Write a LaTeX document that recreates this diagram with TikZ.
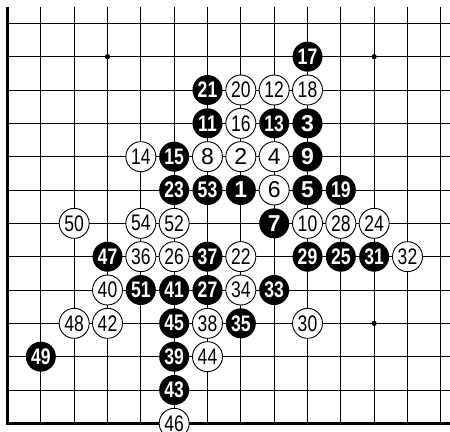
\documentclass[tikz,border=0pt]{standalone}
\usepackage{fontspec}
\setmainfont{Liberation Sans}[FakeStretch=0.78]
\newfontfamily\widedigits{Liberation Sans}
\begin{document}
\begin{tikzpicture}[x=33.333pt, y=33.333pt,
  stone/.style={circle, minimum size=30pt, inner sep=0pt, line width=0.9pt},
  blackstone/.style={stone, fill=black, text=white, font=\fontsize{22.5}{22.5}\selectfont\bfseries},
  whitestone/.style={stone, draw=black, fill=white, font=\fontsize{22.5}{22.5}\selectfont},
  bsingle/.style={blackstone, font=\widedigits\fontsize{23}{23}\selectfont\bfseries},
  wsingle/.style={whitestone, font=\widedigits\fontsize{23}{23}\selectfont}]
\useasboundingbox (-0.225,-12.23) rectangle (13.275,0.7);
% board
\foreach \i in {1,...,13}
  \draw[line width=1pt] (\i,0.49) -- (\i,-12);
\foreach \j in {0,...,11}
  \draw[line width=1pt] (0,-\j) -- (13.275,-\j);
\draw[line width=3pt] (0,0.49) -- (0,-12) -- (13.275,-12);
\fill (3,-1) circle (2.6pt);
\fill (11,-1) circle (2.6pt);
\fill (7,-5) circle (2.6pt);
\fill (3,-9) circle (2.6pt);
\fill (11,-9) circle (2.6pt);
% black
\node[bsingle] (m1) at (7,-5) {1};
\node[bsingle] (m3) at (9,-3) {3};
\node[bsingle] (m5) at (9,-5) {5};
\node[bsingle] (m7) at (8,-6) {7};
\node[bsingle] (m9) at (9,-4) {9};
\node[blackstone] (m11) at (6,-3) {11};
\node[blackstone] (m13) at (8,-3) {13};
\node[blackstone] (m15) at (5,-4) {15};
\node[blackstone] (m17) at (9,-1) {17};
\node[blackstone] (m19) at (10,-5) {19};
\node[blackstone] (m21) at (6,-2) {21};
\node[blackstone] (m23) at (5,-5) {23};
\node[blackstone] (m25) at (10,-7) {25};
\node[blackstone] (m27) at (6,-8) {27};
\node[blackstone] (m29) at (9,-7) {29};
\node[blackstone] (m31) at (11,-7) {31};
\node[blackstone] (m33) at (8,-8) {33};
\node[blackstone] (m35) at (7,-9) {35};
\node[blackstone] (m37) at (6,-7) {37};
\node[blackstone] (m39) at (5,-10) {39};
\node[blackstone] (m41) at (5,-8) {41};
\node[blackstone] (m43) at (5,-11) {43};
\node[blackstone] (m45) at (5,-9) {45};
\node[blackstone] (m47) at (3,-7) {47};
\node[blackstone] (m49) at (1,-10) {49};
\node[blackstone] (m51) at (4,-8) {51};
\node[blackstone] (m53) at (6,-5) {53};
% white
\node[wsingle] (m2) at (7,-4) {2};
\node[wsingle] (m4) at (8,-4) {4};
\node[wsingle] (m6) at (8,-5) {6};
\node[wsingle] (m8) at (6,-4) {8};
\node[whitestone] (m10) at (9,-6) {10};
\node[whitestone] (m12) at (8,-2) {12};
\node[whitestone] (m14) at (4,-4) {14};
\node[whitestone] (m16) at (7,-3) {16};
\node[whitestone] (m18) at (9,-2) {18};
\node[whitestone] (m20) at (7,-2) {20};
\node[whitestone] (m22) at (7,-7) {22};
\node[whitestone] (m24) at (11,-6) {24};
\node[whitestone] (m26) at (5,-7) {26};
\node[whitestone] (m28) at (10,-6) {28};
\node[whitestone] (m30) at (9,-9) {30};
\node[whitestone] (m32) at (12,-7) {32};
\node[whitestone] (m34) at (7,-8) {34};
\node[whitestone] (m36) at (4,-7) {36};
\node[whitestone] (m38) at (6,-9) {38};
\node[whitestone] (m40) at (3,-8) {40};
\node[whitestone] (m42) at (3,-9) {42};
\node[whitestone] (m44) at (6,-10) {44};
\node[whitestone] (m46) at (5,-12) {46};
\node[whitestone] (m48) at (2,-9) {48};
\node[whitestone] (m50) at (2,-6) {50};
\node[whitestone] (m52) at (5,-6) {52};
\node[whitestone] (m54) at (4,-6) {54};
\end{tikzpicture}
\end{document}
